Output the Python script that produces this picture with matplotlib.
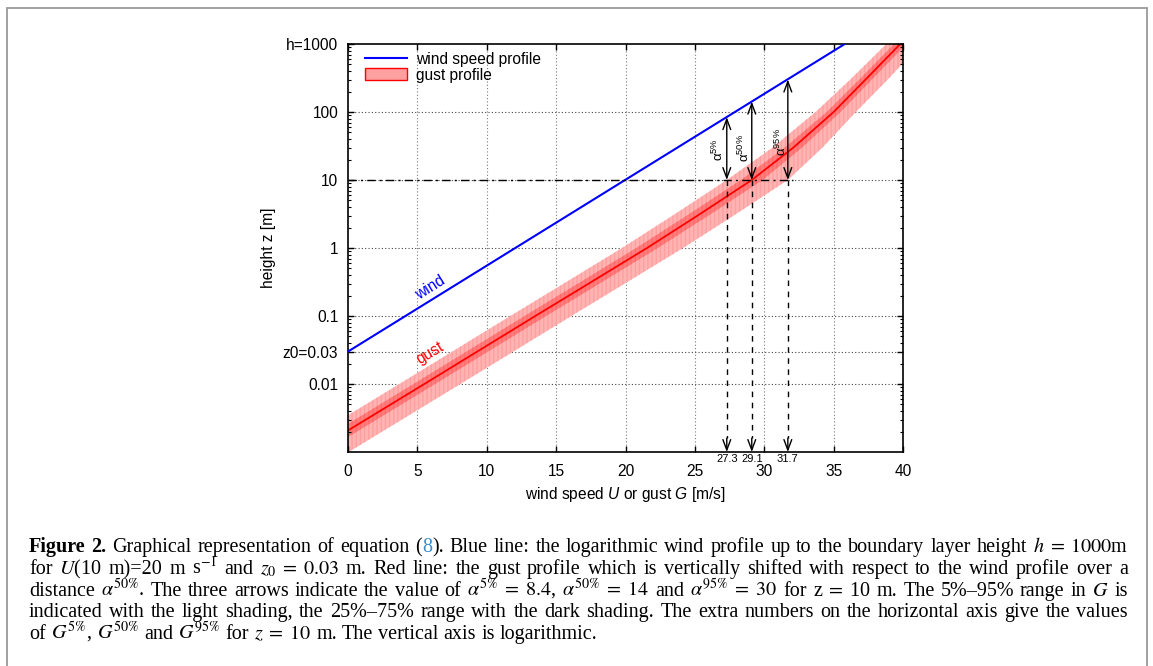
import numpy as np
import matplotlib
matplotlib.use('Agg')
import matplotlib.pyplot as plt
from matplotlib.patches import Rectangle, Patch
from matplotlib.lines import Line2D
import matplotlib.transforms as mtransforms

# ---------------- data ----------------
wind_G = [0.0, 35.8]
wind_z = [0.03, 1000.0]

gust_z   = [0.001, 0.01, 0.1, 0.3, 1.0, 3.0, 10.0, 30.0, 100.0, 300.0, 1000.0]
gust_g50 = [-2.55, 5.5, 13.5, 17.35, 21.55, 25.2, 29.1, 32.1, 35.0, 37.3, 39.8]
gust_g05 = [-4.35, 3.7, 11.7, 15.55, 19.75, 23.4, 27.3, 30.6, 33.7, 36.2, 38.8]
gust_g95 = [0.05, 8.1, 16.1, 19.95, 24.15, 27.8, 31.7, 34.2, 36.6, 38.9, 41.3]
gust_g25 = [-3.33, 4.72, 12.72, 16.57, 20.77, 24.42, 28.32, 31.48, 34.5, 36.85, 39.35]
gust_g75 = [-1.77, 6.28, 14.28, 18.13, 22.33, 25.98, 29.88, 32.72, 35.5, 37.75, 40.25]

z_ref = 10.0
g_at_ref = [27.3, 29.1, 31.7]
g_at_ref_labels = ['27.3', '29.1', '31.7']
arrow_top_z = [84.0, 142.0, 300.0]
alpha_names = ['5%', '50%', '95%']
alpha_label_G = [26.7, 28.6, 31.2]
alpha_label_z = [28.0, 30.0, 36.0]
refline_end_G = 32.1

xticks = [0, 5, 10, 15, 20, 25, 30, 35, 40]
yticks = [1000, 100, 10, 1, 0.1, 0.03, 0.01]
ytick_labels = ['h=1000', '100', '10', '1', '0.1', 'z0=0.03', '0.01']

# ---------------- figure ----------------
W, H = 1153, 666
plt.rcParams['font.family'] = ['Liberation Sans', 'DejaVu Sans']
plt.rcParams['mathtext.fontset'] = 'custom'
plt.rcParams['mathtext.rm'] = 'Liberation Sans'
plt.rcParams['mathtext.it'] = 'Liberation Sans:italic'
plt.rcParams['hatch.linewidth'] = 1.0

FS = 11.2

fig = plt.figure(figsize=(W / 100, H / 100), dpi=100)
fig.patch.set_facecolor('white')

def px2fig(x, y):
    return x / W, 1 - y / H

# outer frame
fig.add_artist(Rectangle(px2fig(7, 668), (1147 - 7) / W, (668 - 8) / H,
                         transform=fig.transFigure, fill=False,
                         edgecolor='#9a9a9a', lw=1.3))

ax_l, ax_r, ax_t, ax_b = 348, 903, 44, 452
ax = fig.add_axes([ax_l / W, 1 - ax_b / H, (ax_r - ax_l) / W, (ax_b - ax_t) / H])
ax.set_xlim(0, 40)
ax.set_yscale('log')
ax.set_ylim(0.001, 1000)

# grid
for x in xticks[1:-1]:
    ax.axvline(x, color='#7a7a7a', lw=0.8, ls=(0, (1, 2)), zorder=0.5)
for y in yticks[1:]:
    ax.axhline(y, color='#444444', lw=0.8, ls=(0, (1, 2)), zorder=0.5)

# gust bands
ax.fill_betweenx(gust_z, gust_g05, gust_g95, facecolor='#ffb4b4', edgecolor='none', lw=0, zorder=1)
ax.fill_betweenx(gust_z, gust_g05, gust_g95, facecolor='none', edgecolor='#ffa0a0',
                 hatch='||||', lw=0, zorder=1.1)
ax.fill_betweenx(gust_z, gust_g25, gust_g75, facecolor='#ff7c7c', edgecolor='none', lw=0, zorder=1.2)
ax.fill_betweenx(gust_z, gust_g25, gust_g75, facecolor='none', edgecolor='#ff6c6c',
                 hatch='||||', lw=0, zorder=1.3)
ax.plot(gust_g50, gust_z, color='#ff0000', lw=1.3, zorder=2)

# wind line
ax.plot(wind_G, wind_z, color='#0000ff', lw=1.5, zorder=3)

# reference height line
ax.plot([0, refline_end_G], [z_ref, z_ref], color='k', lw=1.0,
        ls=(0, (6, 3, 1.5, 3)), zorder=4)

bt = mtransforms.blended_transform_factory(ax.transData, ax.transAxes)
for g, ztop, name, lg, lz, lab in zip(g_at_ref, arrow_top_z, alpha_names,
                                      alpha_label_G, alpha_label_z, g_at_ref_labels):
    ax.annotate('', xy=(g, ztop), xytext=(g, z_ref),
                arrowprops=dict(arrowstyle='<->,head_length=0.75,head_width=0.28',
                                color='k', lw=1.0, shrinkA=0, shrinkB=0), zorder=5)
    ax.plot([g, g], [z_ref, 0.0016], color='k', lw=1.0, ls=(0, (4, 4)), zorder=4)
    ax.annotate('', xy=(g, 0.001), xytext=(g, 0.0016),
                arrowprops=dict(arrowstyle='->,head_length=0.75,head_width=0.28',
                                color='k', lw=1.0, shrinkA=0, shrinkB=0), zorder=5)
    ax.text(lg, lz, r'$\mathrm{\alpha}^{%s}$' % name.replace('%', r'\%'), rotation=90,
            ha='center', va='center', fontsize=9.5, zorder=6)
    ax.text(g, -0.005, lab, transform=bt, ha='center', va='top', fontsize=8)

ax.text(5.9, 0.26, 'wind', color='#0000ff', rotation=32, ha='center', va='center',
        rotation_mode='anchor', fontsize=FS)
ax.text(5.9, 0.0286, 'gust', color='#ff0000', rotation=31, ha='center', va='center',
        rotation_mode='anchor', fontsize=FS)

# ticks
ax.set_xticks(xticks)
ax.set_xticklabels([str(v) for v in xticks])
ax.set_yticks(yticks)
ax.set_yticklabels(ytick_labels)
ax.yaxis.set_minor_locator(matplotlib.ticker.LogLocator(base=10, subs=np.arange(2, 10)))
ax.yaxis.set_minor_formatter(matplotlib.ticker.NullFormatter())
ax.tick_params(axis='both', which='major', direction='in', length=4.5, width=1,
               top=True, right=True, labelsize=FS)
ax.tick_params(axis='y', which='minor', direction='in', length=2.2, width=0.8, right=True)
ax.tick_params(axis='x', pad=9)
ax.tick_params(axis='y', pad=7)
for s in ax.spines.values():
    s.set_linewidth(1.2)

ax.set_ylabel('height z [m]', fontsize=FS)
ax.yaxis.set_label_coords((268 - ax_l) / (ax_r - ax_l), 0.5)
ax.yaxis.label.set_va('center')
ax.set_xlabel(r'wind speed $U$ or gust $G$ [m/s]', fontsize=FS)
ax.xaxis.set_label_coords(0.5, -(494 - ax_b) / (ax_b - ax_t))
ax.xaxis.label.set_va('center')

# legend
handles = [Line2D([], [], color='#0000ff', lw=1.5),
           Patch(facecolor='#ffa0a0', edgecolor='#ff0000', lw=1.0)]
ax.legend(handles, ['wind speed profile', 'gust profile'], loc='upper left',
          bbox_to_anchor=(0.03, 0.981), frameon=False, fontsize=FS,
          handlelength=2.75, handleheight=0.75, handletextpad=0.55,
          labelspacing=0.05, borderaxespad=0, borderpad=0)

# ---------------- caption ----------------
fig.canvas.draw()
renderer = fig.canvas.get_renderer()

BLUE = '#3b8ec8'
def B(s):
    return [(s, {'fontweight': 'bold'})]
def P(s):
    return [(s, {})]

lines = [
    [B('Figure'), B('2.'), 'Graphical', 'representation', 'of', 'equation',
     [('(', {}), ('8', {'color': BLUE}), (').', {})],
     'Blue', 'line:', 'the', 'logarithmic', 'wind', 'profile', 'up', 'to', 'the',
     'boundary', 'layer', 'height', r'$h\;=\;1000$m'],
    ['for', r'$U$(10', 'm)=20', 'm', r's$^{-1}$', 'and', r'$z_0\;=\;0.03$', 'm.', 'Red',
     'line:', 'the', 'gust', 'profile', 'which', 'is', 'vertically', 'shifted', 'with',
     'respect', 'to', 'the', 'wind', 'profile', 'over', 'a'],
    ['distance', r'$\alpha^{50\%}$.', 'The', 'three', 'arrows', 'indicate', 'the', 'value',
     'of', r'$\alpha^{5\%}\;=\;8.4$,', r'$\alpha^{50\%}\;=\;14$', 'and',
     r'$\alpha^{95\%}\;=\;30$', 'for', r'z$\;=\;$10', 'm.', 'The', '5%–95%', 'range',
     'in', r'$G$', 'is'],
    'indicated with the light shading, the 25%–75% range with the dark shading. The extra numbers on the horizontal axis give the values'.split(),
    ['of', r'$G^{5\%}$,', r'$G^{50\%}$', 'and', r'$G^{95\%}$', 'for', r'$z\;=\;10$', 'm.',
     'The', 'vertical', 'axis', 'is', 'logarithmic.'],
]
justify = [True, True, True, True, False]
baselines = [552, 574, 596, 617, 639]
x_left, x_right = 29, 1128

def norm(w):
    return w if isinstance(w, list) else P(w)

def mk(s, kw, size, x=0, y=0):
    t = fig.text(x, y, s, fontsize=size, family=['Liberation Serif', 'DejaVu Serif'],
                 math_fontfamily='stix', ha='left', va='baseline', **kw)
    return t

def width_of(s, kw, size):
    t = mk(s, kw, size)
    w = t.get_window_extent(renderer).width
    t.remove()
    return w

base_size = 12.0
space_w = width_of('a a', {}, base_size) - width_of('aa', {}, base_size)
nat = []
for ln in lines:
    ws = [sum(width_of(s, kw, base_size) for s, kw in norm(w)) for w in ln]
    nat.append(sum(ws) + space_w * (len(ln) - 1))
scale = min((x_right - x_left) / nat[i] for i in range(4)) * 0.985
size = base_size * scale
space_w = width_of('a a', {}, size) - width_of('aa', {}, size)

for ln, jus, yb in zip(lines, justify, baselines):
    words = [norm(w) for w in ln]
    widths = [[width_of(s, kw, size) for s, kw in w] for w in words]
    tot = sum(sum(w) for w in widths)
    gap = (x_right - x_left - tot) / (len(words) - 1) if jus else space_w
    x = x_left
    for w, wd in zip(words, widths):
        for (s, kw), d in zip(w, wd):
            fx, fy = px2fig(x, yb)
            mk(s, kw, size, fx, fy)
            x += d
        x += gap

fig.savefig('out.png', dpi=100)
